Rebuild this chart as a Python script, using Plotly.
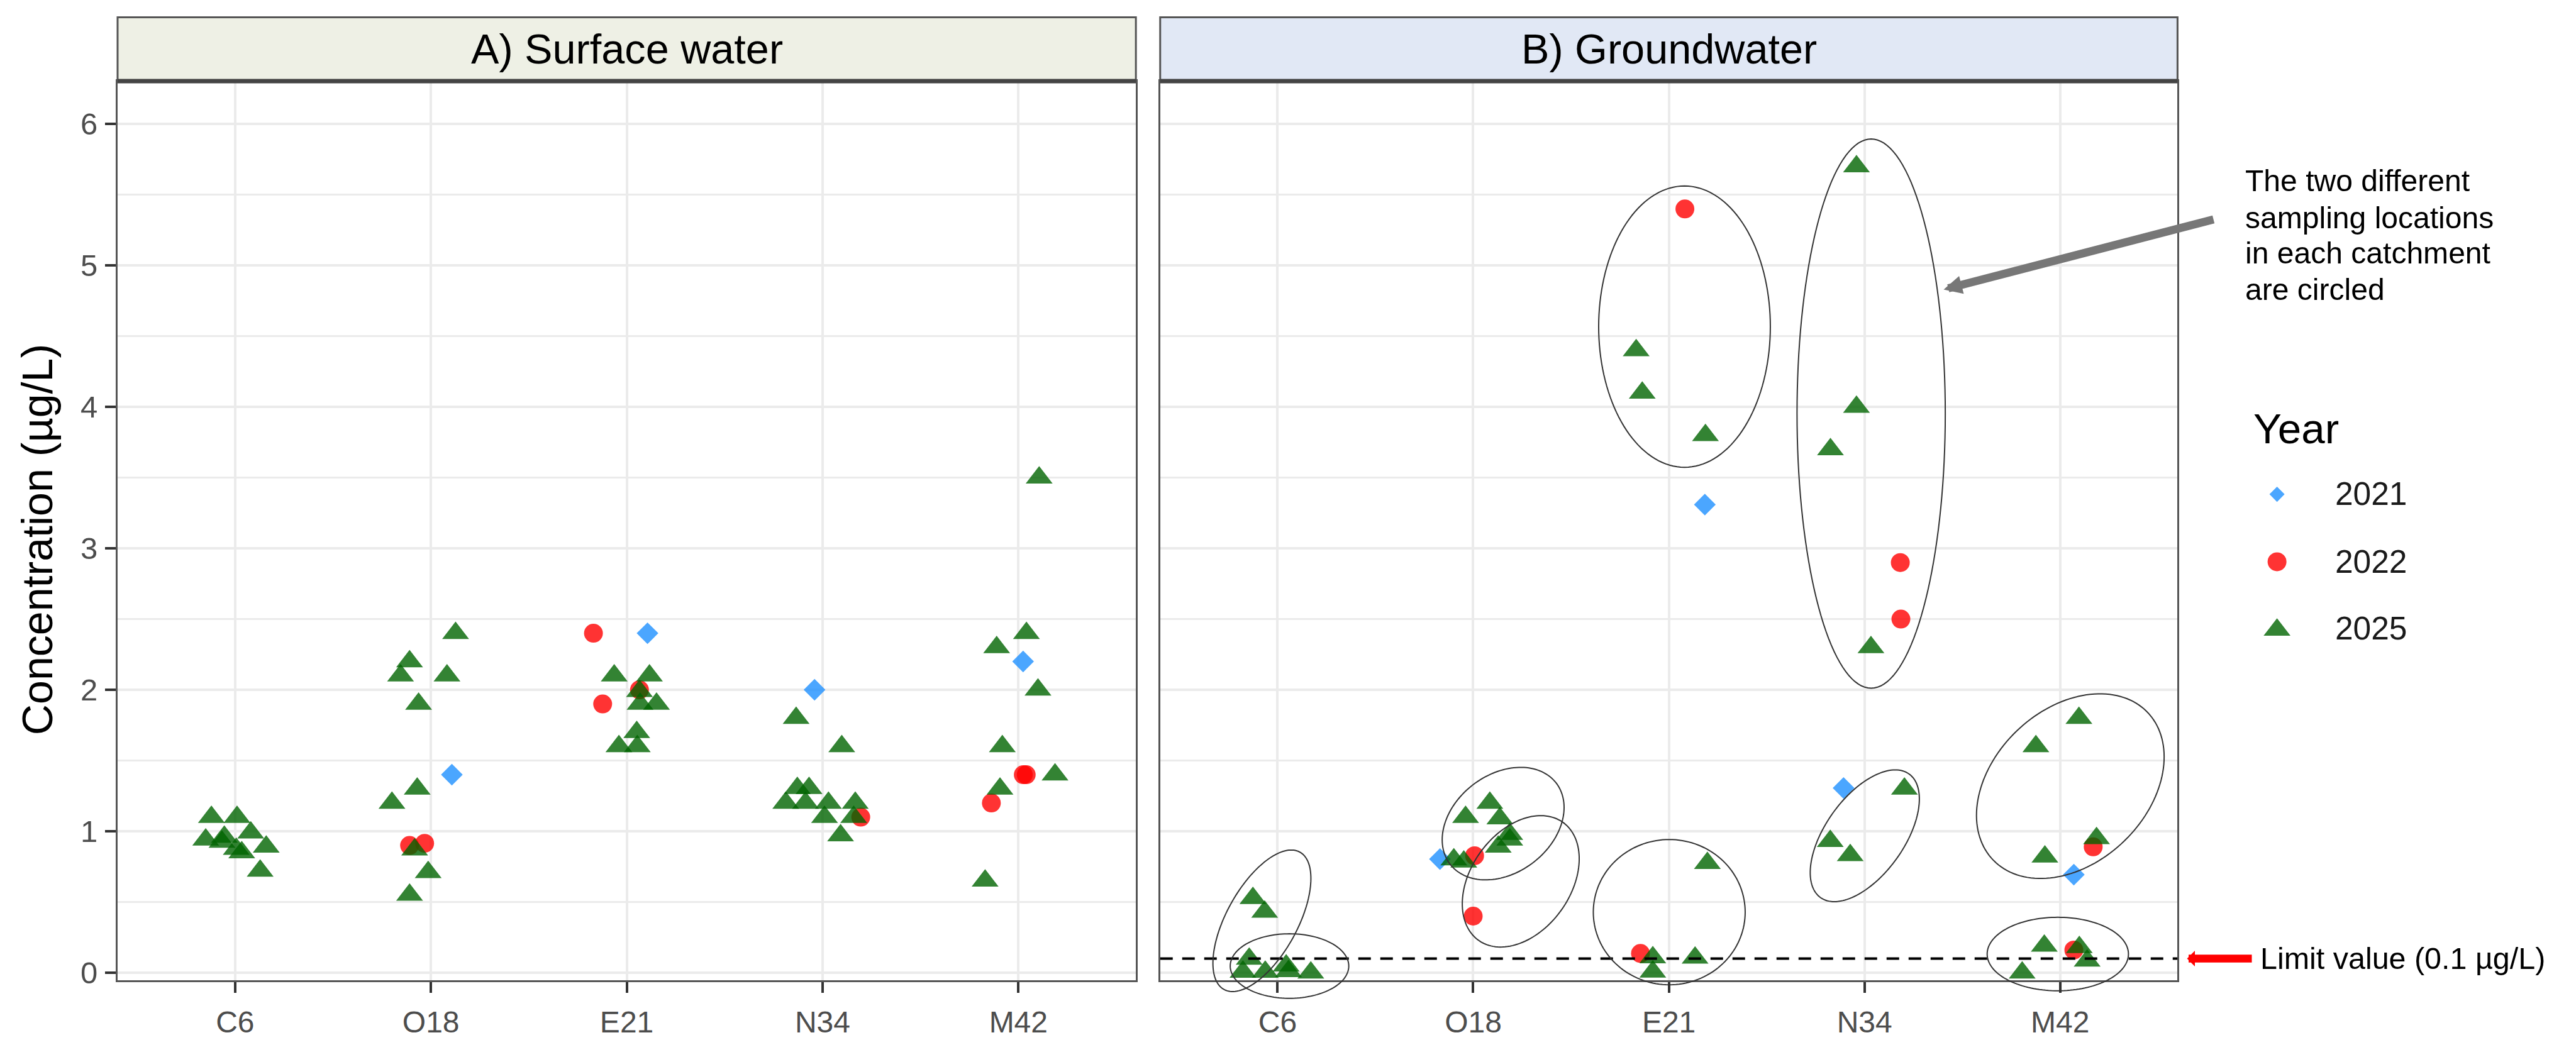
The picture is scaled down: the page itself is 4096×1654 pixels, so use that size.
import numpy as np
import plotly.graph_objects as go

# ---------------------------------------------------------------- data ----
CATCHMENTS = ["C6", "O18", "E21", "N34", "M42"]
Y_TICKS = [0, 1, 2, 3, 4, 5, 6]
YEARS = ["2021", "2022", "2025"]

# A) Surface water
sw21_catch = ["O18", "E21", "N34", "M42"]
sw21_val = [1.40, 2.40, 2.00, 2.20]
sw21_jit = [0.107, 0.106, -0.041, 0.024]

sw22_catch = ["O18", "O18", "E21", "E21", "E21", "N34", "M42", "M42", "M42"]
sw22_val = [0.90, 0.915, 2.40, 1.90, 2.00, 1.10, 1.40, 1.40, 1.20]
sw22_jit = [-0.109, -0.032, -0.170, -0.123, 0.065, 0.195, 0.025, 0.040, -0.138]

sw25_catch = (["C6"] * 10 + ["O18"] * 10 + ["E21"] * 8 + ["N34"] * 11 + ["M42"] * 8)
sw25_val = [1.10, 1.10, 0.94, 0.96, 0.925, 0.99, 0.875, 0.85, 0.89, 0.72,
            2.40, 2.20, 2.10, 2.10, 1.90, 1.30, 1.20, 0.87, 0.71, 0.55,
            2.10, 2.10, 1.99, 1.90, 1.90, 1.70, 1.60, 1.60,
            1.305, 1.305, 1.20, 1.20, 1.20, 1.20, 1.10, 1.10, 0.97, 1.80, 1.60,
            3.50, 2.40, 2.30, 2.00, 1.60, 1.40, 1.30, 0.65]
sw25_jit = [-0.121, 0.010, -0.150, -0.055, -0.067, 0.080, 0.006, 0.034, 0.159, 0.128,
            0.126, -0.109, -0.155, 0.082, -0.063, -0.070, -0.199, -0.083, -0.014, -0.109,
            -0.064, 0.116, 0.065, 0.068, 0.152, 0.051, -0.040, 0.054,
            -0.129, -0.069, -0.188, -0.087, 0.030, 0.167, 0.010, 0.159, 0.092, -0.135, 0.098,
            0.106, 0.041, -0.111, 0.100, -0.082, 0.187, -0.094, -0.170]

# B) Groundwater
gw21_catch = ["O18", "E21", "N34", "M42"]
gw21_val = [0.803, 3.31, 1.306, 0.693]
gw21_jit = [-0.170, 0.184, -0.107, 0.070]

gw22_catch = ["O18", "O18", "E21", "E21", "N34", "N34", "M42", "M42"]
gw22_val = [0.827, 0.40, 5.40, 0.136, 2.90, 2.50, 0.89, 0.16]
gw22_jit = [0.007, 0.0, 0.082, -0.145, 0.183, 0.186, 0.169, 0.070]

gw25_catch = (["C6"] * 8 + ["O18"] * 8 + ["E21"] * 7 + ["N34"] * 7 + ["M42"] * 8)
gw25_val = [0.527, 0.43, 0.098, 0.005, 0.005, 0.05, 0.01, 0.0,
            1.10, 1.20, 1.09, 0.98, 0.94, 0.89, 0.80, 0.785,
            4.40, 4.10, 3.80, 0.108, 0.007, 0.775, 0.105,
            5.70, 4.00, 3.70, 2.30, 1.30, 0.93, 0.83,
            1.80, 1.60, 0.95, 0.82, 0.19, 0.18, 0.084, 0.0]
gw25_jit = [-0.126, -0.066, -0.145, -0.177, -0.063, 0.044, 0.056, 0.170,
            -0.039, 0.085, 0.136, 0.187, 0.187, 0.128, -0.099, -0.048,
            -0.167, -0.136, 0.187, -0.082, -0.082, 0.197, 0.134,
            -0.041, -0.041, -0.174, 0.033, 0.204, -0.175, -0.073,
            0.096, -0.124, 0.186, -0.078, -0.081, 0.098, 0.138, -0.194]

LIMIT_VALUE = 0.1

# ellipses circling the two sampling locations (groundwater panel):
# centre (x in category units, y in µg/L), semi-axes in reference pixels, tilt (deg)
ring_cx = [0.920, 1.061, 2.153, 2.243, 3.080, 4.034, 3.002, 4.0015, 5.052, 4.988]
ring_cy = [0.367, 0.047, 1.054, 0.646, 4.568, 3.953, 0.428, 0.968, 1.319, 0.132]
ring_a = [166, 124.5, 140.8, 153.3, 180.3, 155.7, 159.5, 160.7, 225.4, 148.4]
ring_b = [74.5, 68.4, 103.9, 104.8, 298.2, 582.2, 154.0, 82.6, 162.4, 77.9]
ring_ang = [61.4, 0, 38.1, 55.1, 0, 0, 0, 54.8, 44.4, 0]

# ------------------------------------------------------------- geometry ---
REF_W, REF_H = 5411.0, 2185.0
W, H = 4096, 1654
K = W / REF_W

def fx(px):
    return px / REF_W

def fy(py):
    return 1 - py / REF_H

ZERO_PX, PX_PER_Y = 2062.3, 299.87
PANEL_TOP, PANEL_BOT = 172.0, 2078.0
STRIP_TOP = 36.5
L_X0, L_X1 = 247.0, 2386.0
R_X0, R_X1 = 2437.0, 4574.0
X_RANGE = [0.4, 5.6]
Y_RANGE = [(ZERO_PX - PANEL_BOT) / PX_PER_Y, (ZERO_PX - PANEL_TOP) / PX_PER_Y]
PX_PER_X = (R_X1 - R_X0) / (X_RANGE[1] - X_RANGE[0])

FONT = "Liberation Sans, Arial, Helvetica, sans-serif"
GRID = "#EBEBEB"
BORDER = "#555555"

STYLE = {
    "2021": dict(symbol="diamond", color="#1E90FF", size=26.5, leg=18.5),
    "2022": dict(symbol="circle", color="#FF0000", size=30, leg=30),
    "2025": dict(symbol="triangle-up", color="#006400", size=37, leg=37),
}

def xpos(catch, jit):
    return [CATCHMENTS.index(c) + 1 + j for c, j in zip(catch, jit)]

fig = go.Figure()

panels = [
    ("x", "y", [(sw21_catch, sw21_val, sw21_jit), (sw22_catch, sw22_val, sw22_jit),
                (sw25_catch, sw25_val, sw25_jit)]),
    ("x2", "y2", [(gw21_catch, gw21_val, gw21_jit), (gw22_catch, gw22_val, gw22_jit),
                  (gw25_catch, gw25_val, gw25_jit)]),
]
for xa, ya, series in panels:
    for yr, (c, v, j) in zip(YEARS, series):
        st = STYLE[yr]
        fig.add_trace(go.Scatter(
            x=xpos(c, j), y=v, mode="markers", name=yr, showlegend=False,
            xaxis=xa, yaxis=ya, cliponaxis=False,
            marker=dict(symbol=st["symbol"], color=st["color"], size=st["size"],
                        opacity=0.8, line=dict(width=0)),
            hoverinfo="x+y+name"))

# manual legend keys on an invisible overlay axis (paper-like 0..1 units)
leg_px_x = 4783
leg_px_y = [1048, 1191, 1335.5]
for yr, py in zip(YEARS, leg_px_y):
    st = STYLE[yr]
    fig.add_trace(go.Scatter(
        x=[fx(leg_px_x)], y=[fy(py)], mode="markers", showlegend=False,
        xaxis="x3", yaxis="y3", cliponaxis=False, hoverinfo="skip",
        marker=dict(symbol=st["symbol"], color=st["color"], size=st["leg"],
                    opacity=0.8, line=dict(width=0))))

shapes = []
annotations = []

# strips
for (x0, x1), fill, label in [((L_X0, L_X1), "#EEF0E5", "A) Surface water"),
                              ((R_X0, R_X1), "#E1E8F5", "B) Groundwater")]:
    shapes.append(dict(type="rect", xref="paper", yref="paper",
                       x0=fx(x0), x1=fx(x1), y0=fy(PANEL_TOP), y1=fy(STRIP_TOP),
                       fillcolor=fill, line=dict(color=BORDER, width=3), layer="below"))
    shapes.append(dict(type="line", xref="paper", yref="paper",
                       x0=fx(x0), x1=fx(x1), y0=fy(PANEL_TOP), y1=fy(PANEL_TOP),
                       line=dict(color="#444444", width=7)))
    annotations.append(dict(text=label, xref="paper", yref="paper",
                            x=fx((x0 + x1) / 2), y=fy((STRIP_TOP + PANEL_TOP) / 2),
                            showarrow=False, xanchor="center", yanchor="middle",
                            font=dict(family=FONT, size=88 * K, color="black")))

# limit value dashed line (groundwater)
shapes.append(dict(type="line", xref="x2", yref="y2", x0=X_RANGE[0], x1=X_RANGE[1],
                   y0=LIMIT_VALUE, y1=LIMIT_VALUE,
                   line=dict(color="black", width=4, dash="20px,15px"), layer="above"))

# ellipses
dom_x0, dom_x1 = fx(R_X0), fx(R_X1)
dom_y0, dom_y1 = fy(PANEL_BOT), fy(PANEL_TOP)
t = np.linspace(0, 2 * np.pi, 145)
for cx, cy, a, b, ang in zip(ring_cx, ring_cy, ring_a, ring_b, ring_ang):
    th = np.radians(ang)
    X = a * np.cos(t) * np.cos(th) - b * np.sin(t) * np.sin(th)
    Y = a * np.cos(t) * np.sin(th) + b * np.sin(t) * np.cos(th)
    xd = cx + X / PX_PER_X
    yd = cy + Y / PX_PER_Y
    px_ = dom_x0 + (xd - X_RANGE[0]) / (X_RANGE[1] - X_RANGE[0]) * (dom_x1 - dom_x0)
    py_ = dom_y0 + (yd - Y_RANGE[0]) / (Y_RANGE[1] - Y_RANGE[0]) * (dom_y1 - dom_y0)
    path = "M " + " L ".join(f"{u:.6f},{v:.6f}" for u, v in zip(px_, py_)) + " Z"
    shapes.append(dict(type="path", xref="paper", yref="paper", path=path,
                       line=dict(color="#333333", width=2), layer="above"))

# y-axis title
annotations.append(dict(text="Concentration (µg/L)", xref="paper", yref="paper",
                        x=fx(78), y=fy(1144), textangle=-90, showarrow=False,
                        xanchor="center", yanchor="middle",
                        font=dict(family=FONT, size=90 * K, color="black")))

# callout text + grey arrow
callout = ["The two different", "sampling locations", "in each catchment", "are circled"]
for line, py in zip(callout, [383, 461, 536, 613]):
    annotations.append(dict(text=line, xref="paper", yref="paper", x=fx(4714), y=fy(py),
                            showarrow=False, xanchor="left", yanchor="middle",
                            font=dict(family=FONT, size=63.5 * K, color="black")))
tip_x, tip_y = 4082.7, 613.8
tail_x, tail_y = 4651.5, 466.0
annotations.append(dict(text="", xref="paper", yref="paper", x=fx(tip_x), y=fy(tip_y),
                        axref="pixel", ayref="pixel",
                        ax=(tail_x - tip_x) * K, ay=(tail_y - tip_y) * K,
                        showarrow=True, arrowhead=2, arrowsize=0.45, arrowwidth=13,
                        arrowcolor="#777777"))

# legend title and labels
annotations.append(dict(text="Year", xref="paper", yref="paper", x=fx(4731), y=fy(909),
                        showarrow=False, xanchor="left", yanchor="middle",
                        font=dict(family=FONT, size=89 * K, color="black")))
for yr, py in zip(YEARS, [1046.5, 1191, 1332]):
    annotations.append(dict(text=yr, xref="paper", yref="paper", x=fx(4903), y=fy(py),
                            showarrow=False, xanchor="left", yanchor="middle",
                            font=dict(family=FONT, size=68 * K, color="#1a1a1a")))

# limit value label + red arrow
annotations.append(dict(text="", xref="paper", yref="y2", x=fx(4594), y=LIMIT_VALUE,
                        axref="pixel", ayref="pixel", ax=(4732 - 4594) * K, ay=0,
                        showarrow=True, arrowhead=1, arrowsize=0.33, arrowwidth=12.6,
                        arrowcolor="#FF0000"))
annotations.append(dict(text="Limit value (0.1 µg/L)", xref="paper", yref="y2",
                        x=fx(4745), y=LIMIT_VALUE, showarrow=False,
                        xanchor="left", yanchor="middle",
                        font=dict(family=FONT, size=64 * K, color="black")))

xcommon = dict(range=X_RANGE, tickmode="array", tickvals=list(range(1, 6)),
               ticktext=CATCHMENTS, showgrid=True, gridcolor=GRID, gridwidth=4.2,
               zeroline=False, ticks="outside", ticklen=17, tickwidth=3.8,
               tickcolor="#333333", showline=True, mirror=True, linecolor=BORDER,
               linewidth=3, tickfont=dict(family=FONT, size=48, color="#4D4D4D"),
               ticklabelstandoff=6, fixedrange=True)
ycommon = dict(range=Y_RANGE, tickmode="array", tickvals=Y_TICKS, showgrid=True,
               gridcolor=GRID, gridwidth=4.2, zeroline=False, showline=True,
               mirror=True, linecolor=BORDER, linewidth=3, fixedrange=True,
               domain=[fy(PANEL_BOT), fy(PANEL_TOP)],
               minor=dict(dtick=0.5, tick0=0, showgrid=True, gridcolor=GRID,
                          gridwidth=2.6, ticks=""))

fig.update_layout(
    width=W, height=H, margin=dict(l=0, r=0, t=0, b=0),
    paper_bgcolor="white", plot_bgcolor="rgba(0,0,0,0)",
    showlegend=False,
    xaxis=dict(domain=[fx(L_X0), fx(L_X1)], anchor="y", **xcommon),
    xaxis2=dict(domain=[fx(R_X0), fx(R_X1)], anchor="y2", **xcommon),
    yaxis=dict(anchor="x", ticks="outside", ticklen=17, tickwidth=3.8,
               tickcolor="#333333", ticklabelstandoff=2,
               tickfont=dict(family=FONT, size=49, color="#4D4D4D"), **ycommon),
    yaxis2=dict(anchor="x2", matches="y", showticklabels=False, ticks="", **ycommon),
    xaxis3=dict(domain=[0, 1], range=[0, 1], visible=False, anchor="y3", fixedrange=True),
    yaxis3=dict(domain=[0, 1], range=[0, 1], visible=False, anchor="x3", fixedrange=True),
    shapes=shapes, annotations=annotations,
    font=dict(family=FONT),
)

fig.write_html("out.html", config={"displayModeBar": False},
               post_script="document.body.style.margin='0';document.body.style.overflow='hidden';")
